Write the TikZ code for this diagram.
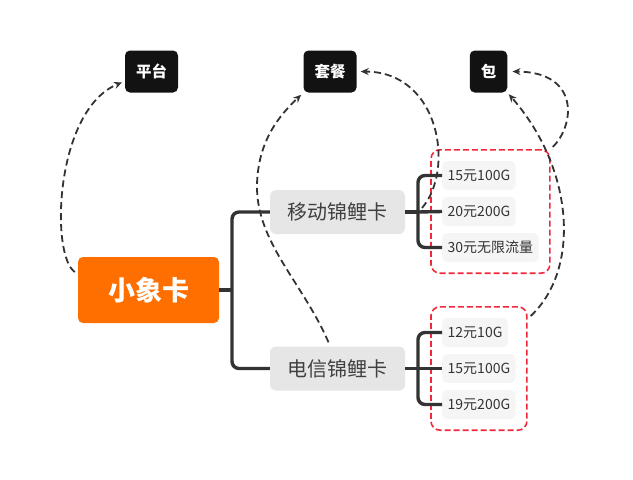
\documentclass[tikz,border=0pt]{standalone}
\usepackage{fontspec}
\usepackage{xcolor}
\usepackage{tikz}
\usetikzlibrary{arrows.meta, positioning, fit, calc}
\newfontfamily\cjk{Noto Sans CJK SC}
\definecolor{rootorange}{HTML}{FF6F00}
\definecolor{tagblack}{HTML}{121212}
\definecolor{branchgray}{HTML}{333333}
\definecolor{subgray}{HTML}{E6E6E6}
\definecolor{leafgray}{HTML}{F5F5F5}
\definecolor{groupred}{HTML}{F0283C}

\begin{document}
\begin{tikzpicture}[x=1pt, y=-1pt,
    tag/.style={fill=tagblack, text=white, rounded corners=5pt, minimum height=42pt, inner xsep=11pt, font=\cjk\bfseries\fontsize{15.5}{16}\selectfont},
    root/.style={fill=rootorange, text=white, rounded corners=5pt, minimum width=141pt, minimum height=66pt, font=\cjk\bfseries\fontsize{27}{28}\selectfont},
    card/.style={fill=subgray, text=black!75, rounded corners=6pt, minimum width=135pt, minimum height=44pt, font=\cjk\fontsize{20}{21}\selectfont},
    leaf/.style={fill=leafgray, text=black!80, rounded corners=5pt, anchor=west, minimum height=29pt, inner xsep=5.5pt, font=\cjk\fontsize{14}{15}\selectfont},
    group/.style={draw=groupred, line width=1.6pt, dash pattern=on 6pt off 3pt, rounded corners=9pt, inner xsep=11pt, inner ysep=11pt},
    branch/.style={draw=branchgray, line width=3.4pt, rounded corners=7pt},
    link/.style={draw=branchgray, line width=1.8pt, dash pattern=on 7pt off 4pt, -{Stealth[length=8pt, width=7pt]}}]
    \useasboundingbox (0,0) rectangle (633,480);

    % Tags on top
    \node[tag] (pingtai) at (151.5,71.5) {平台};
    \node[tag] (taocan) at (330,71.5) {套餐};
    \node[tag] (bao) at (488.5,71.5) {包};

    % Root and cards
    \node[root] (xiang) at (148.5,290) {小象卡};
    \node[card] (yidong) at (337.5,212) {移动锦鲤卡};
    \node[card] (dianxin) at (337.5,368.5) {电信锦鲤卡};

    % Leaves of 移动锦鲤卡
    \node[leaf] (yd1) at (442,175.5) {15元100G};
    \node[leaf] (yd2) at (442,211.5) {20元200G};
    \node[leaf] (yd3) at (442,247.5) {30元无限流量};

    % Leaves of 电信锦鲤卡
    \node[leaf] (dx1) at (442,332.5) {12元10G};
    \node[leaf] (dx2) at (442,368.5) {15元100G};
    \node[leaf] (dx3) at (442,404.5) {19元200G};

    % Red dashed groups
    \node[group, fit=(yd1)(yd2)(yd3)] (ydgroup) {};
    \node[group, fit=(dx1)(dx2)(dx3)] (dxgroup) {};

    % Branches
    \coordinate (j1) at (232,290);
    \coordinate (j2) at (418,212);
    \coordinate (j3) at (418,368.5);
    \draw[branch] (xiang.east) -- (j1);
    \draw[branch] (j1) |- (yidong.west);
    \draw[branch] (j1) |- (dianxin.west);
    \draw[branch] (yidong.east) -- (j2);
    \draw[branch] (j2) |- (yd1.west);
    \draw[branch] (j2) |- (yd3.west);
    \draw[branch] (j2) -- (yd2.west);
    \draw[branch] (dianxin.east) -- (j3);
    \draw[branch] (j3) |- (dx1.west);
    \draw[branch] (j3) |- (dx3.west);
    \draw[branch] (j3) -- (dx2.west);

    % Dashed links to the tags
    \draw[link, shorten >=3pt] ([shift={(-3,-18)}]xiang.west) .. controls (50,255) and (55,110) .. (pingtai.200);
    \draw[link, shorten >=3pt] ([shift={(-9,-4)}]dianxin.north) .. controls (303,283) and (256,242) .. (257,185) .. controls (258,140) and (280,115) .. (taocan.south west);
    \draw[link, shorten >=4pt] ([shift={(4,-4)}]j2) .. controls (455,170) and (440,72) .. (taocan.east);
    \draw[link, shorten <=3pt, shorten >=5pt] (ydgroup.north east) .. controls (575,125) and (580,72) .. (bao.east);
    \draw[link, shorten >=2pt] ([shift={(3,10)}]dxgroup.north east) .. controls (580,270) and (575,170) .. (bao.south east);
\end{tikzpicture}
\end{document}
